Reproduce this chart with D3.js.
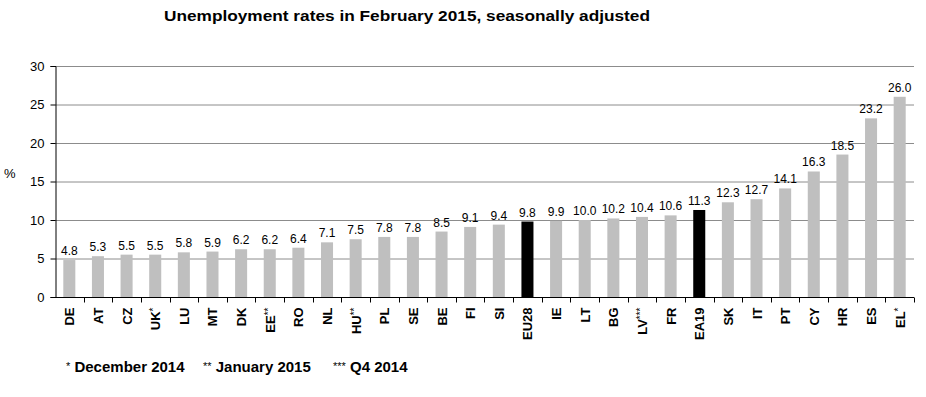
<!DOCTYPE html>
<html>
<head>
<meta charset="utf-8">
<script src="https://cdn.jsdelivr.net/npm/d3@7"></script>
<style>
  body { margin: 0; background: #fff; }
  text { font-family: "Liberation Sans", Arial, sans-serif; }
</style>
</head>
<body>
<div id="chart"></div>
<script>
// Unemployment rates, Feb 2015
var countries = ["DE", "AT", "CZ", "UK*", "LU", "MT", "DK", "EE**", "RO", "NL",
    "HU**", "PL", "SE", "BE", "FI", "SI", "EU28", "IE", "LT", "BG",
    "LV***", "FR", "EA19", "SK", "IT", "PT", "CY", "HR", "ES", "EL*"];
var rates = [4.8, 5.3, 5.5, 5.5, 5.8, 5.9, 6.2, 6.2, 6.4, 7.1,
    7.5, 7.8, 7.8, 8.5, 9.1, 9.4, 9.8, 9.9, 10.0, 10.2,
    10.4, 10.6, 11.3, 12.3, 12.7, 14.1, 16.3, 18.5, 23.2, 26.0];
var aggregates = ["EU28", "EA19"];
var yTicks = [0, 5, 10, 15, 20, 25, 30];
var footnotes = [["*", " December 2014"], ["**", " January 2015"], ["***", " Q4 2014"]];

var svgWidth = 926;
var svgHeight = 397;

var margin = { top: 66, right: 12, bottom: 100, left: 55 };
var width = 914 - margin.left;
var height = 297 - margin.top;

var svg = d3.select("#chart")
    .append("svg")
    .attr("width", svgWidth)
    .attr("height", svgHeight);

var data = countries.map((c, i) => ({ name: c, value: rates[i] }));

var chartGroup = svg.append("g")
    .attr("transform", `translate(${margin.left}, ${margin.top})`);

var xScale = d3.scaleBand()
    .domain(countries)
    .range([0, width])
    .paddingInner(0.58)
    .paddingOuter(0.29);

var yScale = d3.scaleLinear()
    .domain([0, 30])
    .range([height, 0]);

// gridlines
chartGroup.selectAll(".grid")
    .data(yTicks.filter(t => t > 0))
    .enter()
    .append("line")
    .attr("x1", 0)
    .attr("x2", width)
    .attr("y1", d => yScale(d) + 0.5)
    .attr("y2", d => yScale(d) + 0.5)
    .attr("stroke", "#8c8c8c")
    .attr("stroke-width", 1);

// bars
chartGroup.selectAll("rect")
    .data(data)
    .enter()
    .append("rect")
    .attr("x", d => xScale(d.name))
    .attr("y", d => yScale(d.value))
    .attr("width", xScale.bandwidth())
    .attr("height", d => height - yScale(d.value))
    .attr("fill", d => aggregates.includes(d.name) ? "#000" : "#bfbfbf");

// value labels
chartGroup.selectAll(".valueLabel")
    .data(data)
    .enter()
    .append("text")
    .attr("x", d => xScale(d.name) + xScale.bandwidth() / 2)
    .attr("y", d => yScale(d.value) - 5)
    .attr("text-anchor", "middle")
    .attr("font-size", "12px")
    .attr("fill", "#000")
    .text(d => d.value.toFixed(1));

// y axis
var leftAxis = d3.axisLeft(yScale)
    .tickValues(yTicks)
    .tickSize(5)
    .tickPadding(6);

var yAxis = chartGroup.append("g")
    .attr("transform", "translate(0.5, 0)")
    .call(leftAxis);
yAxis.select(".domain").attr("stroke", "#000");
yAxis.selectAll("line").attr("stroke", "#000");
yAxis.selectAll("text")
    .attr("font-size", "13px")
    .attr("font-family", "Liberation Sans, Arial, sans-serif")
    .attr("fill", "#000");

// x axis: baseline plus ticks at band boundaries
var step = xScale.step();
var xAxisGroup = chartGroup.append("g")
    .attr("transform", `translate(0, ${height + 0.5})`);

xAxisGroup.append("line")
    .attr("x1", 0)
    .attr("x2", width)
    .attr("stroke", "#000");

xAxisGroup.selectAll(".xtick")
    .data(countries)
    .enter()
    .append("line")
    .attr("x1", d => Math.round(xScale(d) + xScale.bandwidth() / 2 + step / 2) + 0.5)
    .attr("x2", d => Math.round(xScale(d) + xScale.bandwidth() / 2 + step / 2) + 0.5)
    .attr("y1", 0)
    .attr("y2", 5)
    .attr("stroke", "#000");

// category labels, rotated
var catLabels = xAxisGroup.selectAll(".catLabel")
    .data(countries)
    .enter()
    .append("text")
    .attr("transform", d => `translate(${xScale(d) + xScale.bandwidth() / 2 + 5}, 10) rotate(-90)`)
    .attr("text-anchor", "end")
    .attr("font-size", "13px")
    .attr("font-weight", "bold")
    .attr("fill", "#000");

catLabels.append("tspan")
    .text(d => d.replace(/\*+/, ""));
catLabels.append("tspan")
    .attr("font-size", "10px")
    .attr("font-weight", "normal")
    .attr("dy", "-3")
    .text(d => (d.match(/\*+/) || [""])[0]);

// y label
svg.append("text")
    .attr("x", 4)
    .attr("y", 178)
    .attr("font-size", "13px")
    .attr("fill", "#000")
    .text("%");

// title
svg.append("text")
    .attr("x", 164)
    .attr("y", 21)
    .attr("font-size", "15px")
    .attr("font-weight", "bold")
    .attr("fill", "#000")
    .attr("textLength", 486)
    .attr("lengthAdjust", "spacingAndGlyphs")
    .text("Unemployment rates in February 2015, seasonally adjusted");

// footnotes
var noteX = [66, 203, 333];
footnotes.forEach(function(f, i) {
    var t = svg.append("text")
        .attr("x", noteX[i])
        .attr("y", 372)
        .attr("font-size", "15px")
        .attr("fill", "#000");
    t.append("tspan")
        .attr("font-size", "11px")
        .attr("dy", "-2")
        .text(f[0]);
    t.append("tspan")
        .attr("font-weight", "bold")
        .attr("dy", "2")
        .text(f[1]);
});
</script>
</body>
</html>
